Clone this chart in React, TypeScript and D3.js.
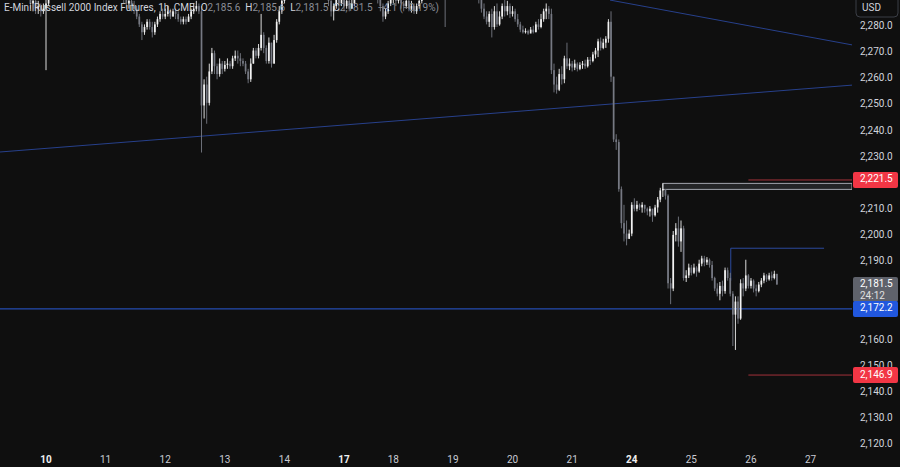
import React from "react";
import * as d3 from "d3";

// one hourly bar: [high, low, close]; the open is the previous bar's close
type Bar = [number, number, number];

const firstOpen = 2297;

// tail of the Feb 7 session (only the last bars are on screen)
const feb07: Bar[] = [
    [2300, 2296, 2298], [2302, 2297, 2300], [2301, 2297, 2299], [2303, 2298, 2301], [2302, 2298, 2300],
    [2304, 2299, 2302], [2303, 2298, 2299], [2300, 2295, 2297], [2300, 2296, 2298], [2299, 2294, 2296],
    [2297, 2293, 2294], [2295, 2291, 2292], [2293, 2287, 2289], [2292, 2286, 2290], [2291, 2285, 2287],
    [2290, 2285, 2288], [2289, 2284, 2286], [2289, 2285, 2287],
];
const feb10: Bar[] = [
    [2292, 2263.5, 2289], [2294, 2288, 2293], [2296, 2292, 2295], [2297, 2293, 2294], [2298, 2293, 2296],
    [2299, 2295, 2297], [2298, 2294, 2295], [2300, 2295, 2298], [2301, 2297, 2299], [2302, 2298, 2301],
    [2303, 2298, 2300], [2304, 2299, 2302], [2305, 2300, 2303], [2304, 2299, 2301], [2306, 2300, 2304],
    [2308, 2303, 2306], [2308, 2303, 2305], [2309, 2304, 2307], [2308, 2304, 2306], [2307, 2303, 2305],
    [2308, 2304, 2306], [2307, 2302, 2304], [2307, 2303, 2305],
];
const feb11: Bar[] = [
    [2306, 2301, 2303], [2304, 2299, 2301], [2302, 2297, 2299], [2300, 2295, 2297], [2300, 2295, 2298],
    [2299, 2293, 2295], [2296, 2291, 2293], [2294, 2289, 2291], [2292, 2287, 2289], [2292, 2287, 2290],
    [2291, 2286, 2288], [2290, 2285, 2287], [2288, 2283, 2284], [2285, 2280, 2281], [2282, 2275, 2278],
    [2281, 2277, 2280], [2283, 2279, 2282], [2283, 2279, 2280], [2282, 2276, 2278], [2282, 2277, 2281],
    [2284, 2280, 2283], [2286, 2282, 2285], [2287, 2283, 2284],
];
const feb12: Bar[] = [
    [2287, 2283, 2285], [2288, 2284, 2286], [2287, 2283, 2284], [2287, 2284, 2286], [2287, 2283, 2285],
    [2286, 2282, 2283], [2284, 2281, 2282], [2284, 2281, 2283], [2284, 2281, 2282], [2285, 2282, 2284],
    [2287, 2283, 2286], [2289, 2285, 2287], [2290, 2286, 2288], [2289, 2285, 2286], [2288, 2232, 2250],
    [2260, 2245, 2258], [2261, 2243, 2251], [2266, 2250, 2263], [2272, 2262, 2270], [2271, 2262, 2265],
    [2266, 2260, 2262], [2268, 2261, 2266], [2267, 2262, 2264],
];
const feb13: Bar[] = [
    [2267, 2263, 2265.5], [2268, 2264, 2266], [2267, 2264, 2265], [2269, 2264, 2268], [2271, 2267, 2269],
    [2271, 2266, 2268], [2270, 2265, 2267], [2268, 2265, 2266], [2267, 2262, 2263], [2264, 2258.5, 2260],
    [2268, 2259, 2266], [2272, 2266, 2271], [2272, 2268, 2269], [2273.5, 2268, 2272], [2285, 2271, 2277],
    [2278, 2270, 2272], [2273, 2266, 2267], [2276, 2266, 2274], [2274, 2264.5, 2266], [2277, 2266, 2275],
    [2283, 2274, 2282], [2288, 2281, 2286], [2292, 2285, 2290],
];
const feb14: Bar[] = [
    [2295, 2289, 2293], [2298, 2292, 2296], [2300, 2295, 2298], [2300, 2295, 2297], [2302, 2296, 2300],
    [2304, 2299, 2302], [2304, 2299, 2301], [2305, 2300, 2303], [2305, 2300, 2302], [2306, 2301, 2304],
    [2306, 2301, 2303], [2304, 2299, 2301], [2302, 2297, 2299], [2300, 2295, 2297], [2300, 2295, 2298],
    [2299, 2293, 2295], [2296, 2291, 2293], [2294, 2288, 2290], [2291, 2284, 2286], [2289, 2282.5, 2288],
    [2292, 2287, 2291], [2292, 2286, 2289], [2294, 2288, 2292],
];
// Presidents' Day: shortened session
const feb17: Bar[] = [
    [2291, 2286, 2288], [2292, 2287, 2290], [2291, 2286, 2287], [2291, 2287, 2289], [2294, 2288, 2292],
    [2297, 2291, 2295], [2299, 2294, 2297], [2300, 2296, 2298], [2301, 2297, 2299], [2300, 2295, 2297],
    [2298, 2294, 2296], [2297, 2293, 2294], [2295, 2291, 2293], [2294, 2289, 2291], [2292, 2286, 2288],
    [2289, 2282, 2284], [2287, 2283, 2286], [2290, 2285, 2289], [2293, 2288, 2291],
];
const feb18: Bar[] = [
    [2294, 2289, 2292], [2293, 2288, 2290], [2293, 2289, 2291], [2292, 2287, 2289], [2290, 2286, 2288],
    [2291, 2287, 2290], [2291, 2286, 2287], [2290, 2285.5, 2288], [2289, 2285, 2286], [2289, 2285, 2288],
    [2291, 2287, 2290], [2294, 2289, 2292], [2296, 2291, 2294], [2298, 2293, 2296], [2299, 2295, 2297],
    [2300, 2296, 2298], [2299, 2295, 2296], [2299, 2295, 2297], [2298, 2294, 2295], [2298, 2293, 2296],
    [2297, 2280, 2294], [2297, 2293, 2296], [2300, 2295, 2298],
];
const feb19: Bar[] = [
    [2299, 2295, 2297], [2301, 2296, 2299], [2301, 2296, 2298], [2302, 2297, 2300], [2304, 2299, 2302],
    [2304, 2299, 2301], [2302, 2297, 2299], [2300, 2295, 2297], [2298, 2293, 2295], [2296, 2292, 2293],
    [2294, 2289, 2291], [2291, 2285.5, 2287], [2289, 2283, 2284], [2286, 2281, 2282], [2286, 2280, 2285],
    [2287, 2276, 2280], [2288, 2279, 2286], [2289, 2280, 2281], [2286, 2280.5, 2284], [2289, 2283, 2288],
    [2291, 2284, 2286], [2290, 2284.5, 2288], [2289, 2283.5, 2285],
];
const feb20: Bar[] = [
    [2288, 2284, 2286], [2287, 2282, 2283], [2285, 2280, 2281], [2282, 2278, 2279], [2280.5, 2277.5, 2278],
    [2279.5, 2277.5, 2278.5], [2279, 2277, 2277.5], [2280, 2278, 2279], [2280.5, 2277.5, 2278], [2282, 2278, 2281],
    [2283, 2279, 2280], [2285, 2279.5, 2283], [2287, 2282, 2286], [2289, 2283, 2287], [2288, 2283, 2285],
    [2287, 2262, 2263.5], [2266, 2255, 2258], [2261, 2254.5, 2256], [2264, 2255.5, 2262], [2265, 2258, 2260],
    [2269, 2258.5, 2268], [2274, 2264, 2265], [2268, 2263.5, 2266],
];
const feb21: Bar[] = [
    [2267, 2263, 2264.5], [2267.5, 2263.5, 2266], [2266.5, 2263, 2264], [2266.5, 2263.5, 2265.5], [2267, 2264, 2266],
    [2267.5, 2264, 2265], [2268.5, 2264.5, 2267.5], [2268.5, 2265.5, 2267], [2270.5, 2266.5, 2269.5], [2272, 2268, 2271],
    [2275.5, 2268.5, 2274.5], [2276, 2271, 2272], [2275.5, 2271.5, 2274], [2276.5, 2272, 2275.5], [2283, 2274, 2282],
    [2286, 2259, 2261], [2261, 2236, 2237], [2239, 2233, 2236], [2237, 2217, 2218], [2219, 2203, 2205],
    [2212, 2198, 2201], [2206, 2196.5, 2199], [2202.5, 2199, 2201],
];
const feb24: Bar[] = [
    [2213, 2200, 2212], [2214.5, 2209.5, 2210.5], [2213.5, 2209.5, 2212], [2212.5, 2210, 2211], [2213, 2209, 2212],
    [2212, 2209, 2210.5], [2211, 2208, 2209.5], [2211.5, 2207.5, 2210.5], [2210.5, 2205.5, 2208], [2212, 2207.5, 2211],
    [2215, 2209, 2214], [2218.5, 2213, 2217.5], [2220.2, 2215, 2218], [2218, 2214, 2215.5], [2216, 2180, 2182],
    [2184, 2174, 2180], [2202, 2179, 2200.5], [2205, 2198, 2203], [2207.5, 2196, 2198], [2206, 2194, 2203],
    [2204, 2183, 2184], [2187, 2182.5, 2185], [2189.5, 2184, 2188],
];
const feb25: Bar[] = [
    [2189, 2185, 2186], [2189.5, 2185.5, 2188], [2188.5, 2184.5, 2186.5], [2191, 2186, 2189.5], [2192.5, 2188.5, 2191.5],
    [2192.5, 2188.5, 2190], [2192, 2189, 2191], [2191.5, 2188, 2189], [2190.5, 2183, 2184], [2184.5, 2179, 2180],
    [2182, 2177, 2178], [2182.5, 2175.5, 2181], [2183, 2177, 2179], [2188, 2178, 2187], [2188, 2183, 2184],
    [2186, 2177, 2178], [2179, 2158, 2170], [2177, 2156.5, 2175], [2177, 2166.5, 2168.5], [2183.5, 2168, 2182],
    [2184, 2177, 2180], [2191, 2179, 2185], [2185.5, 2180, 2181],
];
const feb26: Bar[] = [
    [2184, 2180, 2183], [2183.5, 2178.5, 2180], [2181.5, 2177, 2179], [2182.5, 2178.5, 2181.5], [2184, 2180.5, 2183],
    [2186, 2182, 2185], [2185.5, 2182.5, 2183.5], [2186, 2183, 2185], [2186.5, 2183, 2184], [2186.8, 2183.5, 2185.6],
    [2185.6, 2181.5, 2181.5],
];

const sessionDays = [10, 11, 12, 13, 14, 17, 18, 19, 20, 21, 24, 25, 26, 27];
const sessionLengths = [23, 23, 23, 23, 23, 19, 23, 23, 23, 23, 23, 23, 23];
const sessionBars = [feb10, feb11, feb12, feb13, feb14, feb17, feb18, feb19, feb20, feb21, feb24, feb25, feb26];
const weekStarts = [10, 17, 24];

// drawings, anchored as [bar index, price]
const trendLines: [number, number][][] = [
    [[-17.75, 2232.2], [311.3, 2257.8]],
    [[217.6, 2290.3], [311.3, 2273.1]],
];
const swingLine: [number, number][] = [[264.2, 2183], [264.2, 2195.4], [300.2, 2195.4]];
const zoneBar = 238;
const zonePrices = [2220.2, 2217.9];
const redLevels = [2221.5, 2146.9];
const redFromBar = 271;
const supportLevel = 2172.2;
const countdown = "24:12";

const W = 900;
const H = 467;
const plotRight = 852;
const plotBottom = 447;
const font = "Roboto, 'Noto Sans', sans-serif";
const upColor = "#f2f2f2";
const downColor = "#767983";

const fmt = d3.format(",.1f");

const App: React.FC = () => {
    const starts = d3.cumsum([0, ...sessionLengths]);
    const total = starts[starts.length - 1];

    const x = d3.scaleLinear().domain([0, total]).range([46, 810.6]);
    const y = d3.scaleLinear().domain([2120, 2280]).range([445.4, 27]);

    const candles: { i: number; o: number; h: number; l: number; c: number }[] = [];
    let prev = firstOpen;
    feb07.forEach((b, k) => {
        candles.push({ i: k - feb07.length, o: prev, h: b[0], l: b[1], c: b[2] });
        prev = b[2];
    });
    sessionBars.forEach((bars, s) => {
        bars.forEach((b, k) => {
            candles.push({ i: starts[s] + k, o: prev, h: b[0], l: b[1], c: b[2] });
            prev = b[2];
        });
    });
    const last = candles[candles.length - 1];
    const change = last.c - last.o;

    const bodyW = 1.7;
    const line = d3.line<[number, number]>().x((d) => x(d[0])).y((d) => y(d[1]));

    // price tags on the axis: [top, bottom] in pixels
    const tagBoxes: [number, number][] = [
        ...redLevels.map((p) => [y(p) - 8, y(p) + 8] as [number, number]),
        [y(supportLevel) - 8, y(supportLevel) + 8],
        [y(last.c) - 7.5, y(last.c) + 17.5],
    ];
    // scale labels whose centre sits under a tag are hidden
    const priceTicks = y.ticks(16).filter((t) => {
        const ty = y(t) - 1.5;
        return !tagBoxes.some(([a, b]) => ty + 1 > a && ty - 1 < b);
    });

    const tag = (price: number, fill: string) => (
        <g key={`tag-${price}`}>
            <rect x={853} y={y(price) - 8} width={45} height={16} rx={2} fill={fill} />
            <text x={860} y={y(price) - 1} dominantBaseline="central" fill="#ffffff" fontSize={10}>
                {fmt(price)}
            </text>
        </g>
    );

    return (
        <>
            <style>{"html,body{margin:0;padding:0;background:#0f0f0f;overflow:hidden}"}</style>
            <svg width={W} height={H} style={{ display: "block", fontFamily: font }}>
                <rect width={W} height={H} fill="#0f0f0f" />
                <defs>
                    <clipPath id="plot">
                        <rect x={0} y={0} width={plotRight} height={plotBottom} />
                    </clipPath>
                </defs>

                <g clipPath="url(#plot)">
                    {trendLines.map((pts, k) => (
                        <path key={`tl${k}`} d={line(pts) ?? ""} stroke="#27408b" strokeWidth={1} fill="none" />
                    ))}
                    <line x1={0} x2={plotRight} y1={y(supportLevel)} y2={y(supportLevel)} stroke="#2a5bd7" strokeWidth={1} />
                    <rect
                        x={x(zoneBar)}
                        y={y(zonePrices[0])}
                        width={plotRight - x(zoneBar)}
                        height={y(zonePrices[1]) - y(zonePrices[0])}
                        fill="rgba(120,123,134,0.2)"
                        stroke="#a3a6af"
                        strokeWidth={1}
                    />
                    {redLevels.map((p) => (
                        <line key={`r${p}`} x1={x(redFromBar)} x2={plotRight} y1={y(p)} y2={y(p)} stroke="#a3313a" strokeWidth={1} />
                    ))}
                    <path d={line(swingLine) ?? ""} stroke="#2b4a9e" strokeWidth={1} fill="none" />

                    {candles.map((d) => {
                        const col = d.c >= d.o ? upColor : downColor;
                        const top = y(Math.max(d.o, d.c));
                        const bh = Math.max(0.8, y(Math.min(d.o, d.c)) - top);
                        return (
                            <g key={d.i}>
                                <line x1={x(d.i)} x2={x(d.i)} y1={y(d.h)} y2={y(d.l)} stroke={col} strokeWidth={0.9} />
                                <rect x={x(d.i) - bodyW / 2} y={top} width={bodyW} height={bh} fill={col} />
                            </g>
                        );
                    })}
                </g>

                {/* header legend */}
                <text x={4} y={11} fontSize={10} fill="#d1d4dc">
                    E-Mini Russell 2000 Index Futures, 1h, CME
                    <tspan dx={6}>O</tspan>
                    <tspan fill="#8a8d96">{fmt(last.o)}</tspan>
                    <tspan dx={5}>H</tspan>
                    <tspan fill="#8a8d96">{fmt(last.h)}</tspan>
                    <tspan dx={5}>L</tspan>
                    <tspan fill="#8a8d96">{fmt(last.l)}</tspan>
                    <tspan dx={5}>C</tspan>
                    <tspan fill="#8a8d96">{fmt(last.c)}</tspan>
                    <tspan dx={5} fill="#8a8d96">
                        {`${d3.format(".1f")(change)} (${d3.format(".2%")(change / last.o)})`}
                    </tspan>
                </text>

                {/* price axis */}
                {priceTicks.map((t) => (
                    <text key={t} x={860} y={y(t) - 1.5} dominantBaseline="central" fontSize={10} fill="#d1d4dc">
                        {fmt(t)}
                    </text>
                ))}
                <rect x={856} y={-4} width={42} height={21} rx={4} fill="#0f0f0f" stroke="#3b3e46" />
                <text x={862} y={11} fontSize={10} fill="#d1d4dc">USD</text>

                {redLevels.map((p) => tag(p, "#f23645"))}
                <g>
                    <rect x={853} y={y(last.c) - 7.5} width={45} height={25} rx={2} fill="#5f626b" />
                    <text x={860} y={y(last.c) - 1} dominantBaseline="central" fill="#ffffff" fontSize={10}>
                        {fmt(last.c)}
                    </text>
                    <text x={860} y={y(last.c) + 11} dominantBaseline="central" fill="#e0e0e0" fontSize={10}>
                        {countdown}
                    </text>
                </g>
                {tag(supportLevel, "#2157de")}

                {/* time axis */}
                {sessionDays.map((d, k) => {
                    const bold = weekStarts.includes(d);
                    return (
                        <text
                            key={d}
                            x={x(starts[k])}
                            y={463}
                            textAnchor="middle"
                            fontSize={10}
                            fontWeight={bold ? 700 : 400}
                            fill={bold ? "#f0f0f0" : "#c8cbd3"}
                        >
                            {d}
                        </text>
                    );
                })}
            </svg>
        </>
    );
};

export default App;
